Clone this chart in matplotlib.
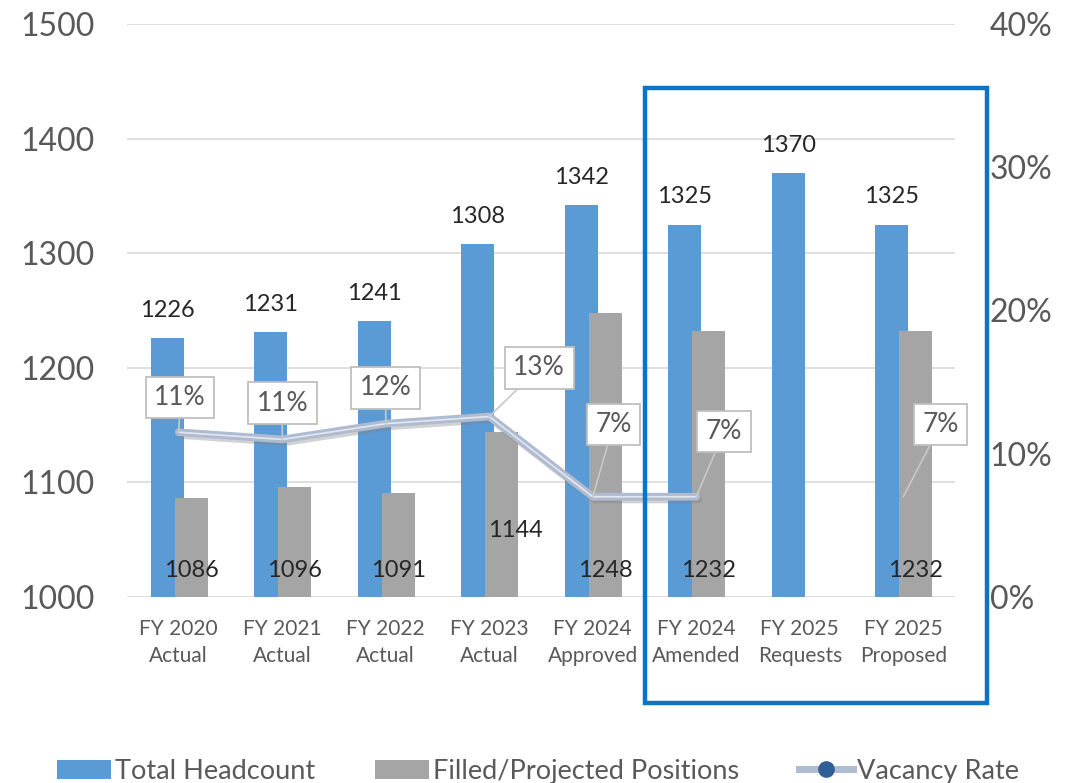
import numpy as np
import matplotlib
matplotlib.use("Agg")
import matplotlib.pyplot as plt
from matplotlib.lines import Line2D
from matplotlib.patches import Patch, Rectangle
import matplotlib.patheffects as pe

plt.rcParams['font.family'] = ['Lato', 'DejaVu Sans']

categories = ["FY 2020\nActual", "FY 2021\nActual", "FY 2022\nActual", "FY 2023\nActual",
              "FY 2024\nApproved", "FY 2024\nAmended", "FY 2025\nRequests", "FY 2025\nProposed"]
total_headcount = [1226, 1231, 1241, 1308, 1342, 1325, 1370, 1325]
filled_positions = [1086, 1096, 1091, 1144, 1248, 1232, np.nan, 1232]
vacancy_rate = [11.5, 11.0, 12.1, 12.6, 7.0, 7.0, np.nan, 7.0]
vacancy_labels = ["11%", "11%", "12%", "13%", "7%", "7%", "", "7%"]

TXT = '#595959'
BLUE = '#5b9bd5'
GRAY = '#a5a5a5'

fig = plt.figure(figsize=(10.76, 7.83), dpi=100)
ax = fig.add_axes([127/1076, 1-597/783, (955-127)/1076, (597-24)/783])
ax2 = ax.twinx()

x = np.arange(len(categories))
w = 0.32
ax.bar(x - 0.11, total_headcount, width=w, color=BLUE, zorder=2)
ax.bar(x + 0.12, filled_positions, width=w, color=GRAY, zorder=3)

ax.set_ylim(1000, 1500)
ax.set_xlim(-0.5, len(categories) - 0.5)
ax.set_yticks([1000, 1100, 1200, 1300, 1400, 1500])
ax.yaxis.grid(True, color='#d9d9d9', lw=1.2, zorder=0)
ax.set_axisbelow(True)
ax.set_xticks(x)
ax.set_xticklabels(categories, fontsize=15, color=TXT, linespacing=1.45)
ax.tick_params(axis='x', length=0, pad=16)
ax.tick_params(axis='y', length=0, pad=23, labelsize=23, labelcolor=TXT)
for s in ax.spines.values():
    s.set_visible(False)

# bar labels
for xi, v in zip(x, total_headcount):
    ax.annotate(str(v), (xi - 0.11, v), xytext=(0, 20), textcoords='offset points',
                ha='center', va='center', fontsize=17, color='#262626')
gray_label_dy = {3: 29}
for i, (xi, v) in enumerate(zip(x, filled_positions)):
    if np.isnan(v):
        continue
    dy = gray_label_dy.get(i, 0)
    dx = 10 if i == 3 else 0
    ax.annotate(str(int(v)), (xi + 0.12, 1000), xytext=(dx, 19 + dy), textcoords='offset points',
                ha='center', va='center', fontsize=17, color='#262626', zorder=5)

# vacancy line
ax2.set_ylim(0, 40)
ax2.set_yticks([0, 10, 20, 30, 40])
ax2.set_yticklabels(["0%", "10%", "20%", "30%", "40%"])
ax2.tick_params(axis='y', length=0, pad=25, labelsize=23, labelcolor=TXT)
for s in ax2.spines.values():
    s.set_visible(False)
ax2.plot(x, vacancy_rate, color='#aebbd0', lw=5.5, solid_capstyle='round', zorder=4,
         path_effects=[pe.SimpleLineShadow(offset=(1.5, -2), shadow_color='#7f7f7f', alpha=0.35),
                       pe.Normal()])
ax2.plot(x, vacancy_rate, color='#e3e8f0', lw=1.2, zorder=5)

label_offsets = [(1, 25), (0, 26), (0, 26), (36, 35), (15, 52), (20, 47), (0, 0), (27, 52)]
for i, (xi, v, lab) in enumerate(zip(x, vacancy_rate, vacancy_labels)):
    if np.isnan(v) or not lab:
        continue
    ax2.annotate(lab, (xi, v), xytext=label_offsets[i], textcoords='offset points',
                 ha='center', va='center', fontsize=19, color=TXT, zorder=6,
                 bbox=dict(boxstyle='square,pad=0.32', fc='white', ec='#bfbfbf', lw=1.3),
                 arrowprops=dict(arrowstyle='-', color='#c8c8c8', lw=1.2, shrinkA=0, shrinkB=0))

# highlight rectangle
fig.patches.append(Rectangle((645/1076, 1-703/783), 342/1076, 615/783, transform=fig.transFigure,
                             fill=False, ec='#0a74c8', lw=3.2, zorder=10))

handles = [Patch(facecolor=BLUE, edgecolor='none'),
           Patch(facecolor=GRAY, edgecolor='none'),
           Line2D([], [], color='#aebbd0', lw=5, marker='o', markersize=11,
                  markerfacecolor='#2f5f98', markeredgecolor='#2f5f98')]
fig.legend(handles, ["Total Headcount", "Filled/Projected Positions", "Vacancy Rate"],
           loc='lower center', bbox_to_anchor=(0.5, -0.032), ncol=3, frameon=False,
           fontsize=19.5, labelcolor=TXT, handlelength=2.0, handleheight=0.7,
           handletextpad=0.15, columnspacing=2.2)

fig.savefig("out.png", dpi=100)
